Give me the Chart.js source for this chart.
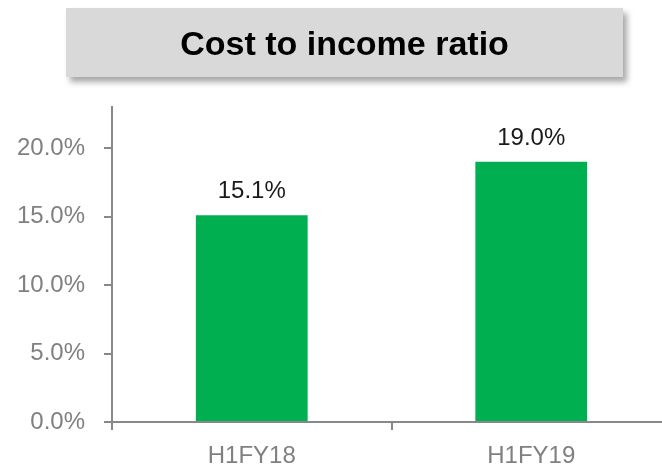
<!DOCTYPE html>
<html>
<head>
<meta charset="utf-8">
<script src="https://cdn.jsdelivr.net/npm/chart.js@4/dist/chart.umd.min.js"></script>
<style>
  html, body { margin: 0; padding: 0; background: #fff; overflow: hidden; }
  #wrap { width: 671px; height: 468px; }
</style>
</head>
<body>
<div id="wrap"><canvas id="c" width="671" height="468"></canvas></div>
<script>
const titleText = "Cost to income ratio";
const categories = ["H1FY18", "H1FY19"];
const costToIncome = [15.1, 19.0];
const yTicks = [0, 5, 10, 15, 20];
const yMax = 23;

const FONT = "'Liberation Sans', Arial, sans-serif";
const GRAY = "#888888";

const titleBoxPlugin = {
  id: "titleBox",
  beforeDraw(chart) {
    const ctx = chart.ctx;
    ctx.save();
    ctx.shadowColor = "rgba(0,0,0,0.35)";
    ctx.shadowBlur = 6;
    ctx.shadowOffsetX = 4;
    ctx.shadowOffsetY = 5;
    ctx.fillStyle = "#D9D9D9";
    ctx.fillRect(66, 8, 557, 69);
    ctx.restore();
    ctx.save();
    ctx.fillStyle = "#000";
    ctx.font = "bold 34px " + FONT;
    ctx.textAlign = "center";
    ctx.textBaseline = "alphabetic";
    ctx.fillText(titleText, 344.5, 55);
    ctx.restore();
  }
};

const valueLabelPlugin = {
  id: "valueLabels",
  afterDatasetsDraw(chart) {
    const ctx = chart.ctx;
    const meta = chart.getDatasetMeta(0);
    const data = chart.data.datasets[0].data;
    ctx.save();
    ctx.fillStyle = "#1a1a1a";
    ctx.font = "24px " + FONT;
    ctx.textAlign = "center";
    ctx.textBaseline = "alphabetic";
    meta.data.forEach((bar, i) => {
      ctx.fillText(data[i].toFixed(1) + "%", bar.x, bar.y - 17);
    });
    ctx.restore();
  }
};

new Chart(document.getElementById("c"), {
  type: "bar",
  data: {
    labels: categories,
    datasets: [{
      data: costToIncome,
      backgroundColor: "#00B050",
      borderWidth: 0,
      barPercentage: 0.4,
      categoryPercentage: 1.0
    }]
  },
  options: {
    responsive: false,
    animation: false,
    devicePixelRatio: 1,
    layout: { padding: { top: 107, left: 0, right: 0, bottom: 0 } },
    plugins: {
      legend: { display: false },
      title: { display: false },
      tooltip: { enabled: false }
    },
    scales: {
      x: {
        offset: true,
        grid: {
          offset: true,
          drawOnChartArea: false,
          drawTicks: true,
          tickLength: 8,
          color: GRAY,
          lineWidth: 2
        },
        border: { display: true, color: GRAY, width: 2 },
        ticks: {
          color: "#808080",
          font: { family: FONT, size: 24 },
          padding: 12,
          maxRotation: 0
        },
        afterFit(scale) { scale.height = 46; }
      },
      y: {
        min: 0,
        max: yMax,
        afterBuildTicks(scale) {
          scale.ticks = yTicks.map(v => ({ value: v }));
        },
        grid: {
          drawOnChartArea: false,
          drawTicks: true,
          tickLength: 8,
          color: GRAY,
          lineWidth: 2
        },
        border: { display: true, color: GRAY, width: 2 },
        ticks: {
          color: "#808080",
          font: { family: FONT, size: 24 },
          padding: 19,
          callback: v => v.toFixed(1) + "%"
        },
        afterFit(scale) { scale.width = 112; }
      }
    }
  },
  plugins: [titleBoxPlugin, valueLabelPlugin]
});
</script>
</body>
</html>
